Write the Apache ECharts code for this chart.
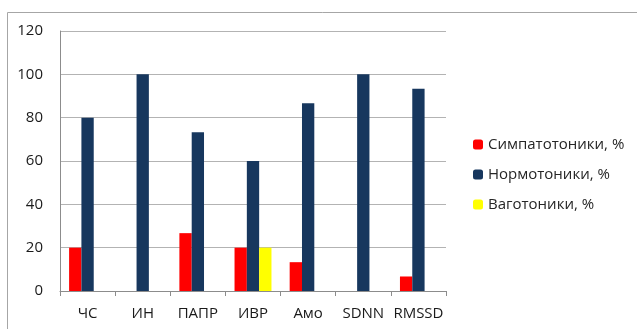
<!DOCTYPE html>
<html>
<head>
<meta charset="utf-8">
<script src="https://cdn.jsdelivr.net/npm/echarts@6/dist/echarts.min.js"></script>
<style>
html,body{margin:0;padding:0;background:#fff;}
#main{width:637px;height:329px;}
</style>
</head>
<body>
<div id="main"></div>
<script>
// категории и значения, %
var categories = ['ЧС', 'ИН', 'ПАПР', 'ИВР', 'Амо', 'SDNN', 'RMSSD'];
var simpato = [20, 0, 26.7, 20, 13.3, 0, 6.7];
var normo = [80, 100, 73.3, 60, 86.7, 100, 93.3];
var vago = [0, 0, 0, 20, 0, 0, 0];
var yTicks = [0, 20, 40, 60, 80, 100, 120];

var myChart = echarts.init(document.getElementById('main'));
var font = '"Open Sans", "Noto Sans", sans-serif';

option = {
    animation: false,
    textStyle: {fontFamily: font},
    graphic: [{
        type: 'rect',
        shape: {x: 7.5, y: 12.5, width: 700, height: 400},
        style: {fill: null, stroke: '#a6a6a6', lineWidth: 1}
    }],
    grid: {left: 60, top: 31, width: 386, height: 260},
    legend: {
        orient: 'vertical',
        left: 468,
        top: 132,
        itemWidth: 10,
        itemHeight: 10,
        itemGap: 15,
        textStyle: {fontSize: 15, color: '#262626', fontFamily: font},
        data: ['Симпатотоники, %', 'Нормотоники, %', 'Ваготоники, %']
    },
    xAxis: {
        type: 'category',
        data: categories,
        axisLine: {lineStyle: {color: '#8c8c8c'}},
        axisTick: {show: true, length: 5, lineStyle: {color: '#8c8c8c'}},
        axisLabel: {fontSize: 15, color: '#1a1a1a', margin: 15, interval: 0}
    },
    yAxis: {
        type: 'value',
        min: yTicks[0],
        max: yTicks[yTicks.length - 1],
        interval: 20,
        axisLine: {show: true, lineStyle: {color: '#8c8c8c'}},
        axisTick: {show: false},
        axisLabel: {fontSize: 15, color: '#1a1a1a', margin: 17},
        splitLine: {lineStyle: {color: '#b3b3b3'}}
    },
    series: [
        {
            name: 'Симпатотоники, %',
            type: 'bar',
            data: simpato,
            barGap: '0%',
            barCategoryGap: '33%',
            itemStyle: {color: '#ff0000'}
        },
        {
            name: 'Нормотоники, %',
            type: 'bar',
            data: normo,
            itemStyle: {color: '#17375e'}
        },
        {
            name: 'Ваготоники, %',
            type: 'bar',
            data: vago,
            itemStyle: {color: '#ffff00'}
        }
    ]
};

if (option && typeof option === "object") {
    myChart.setOption(option, true);
}
</script>
</body>
</html>
